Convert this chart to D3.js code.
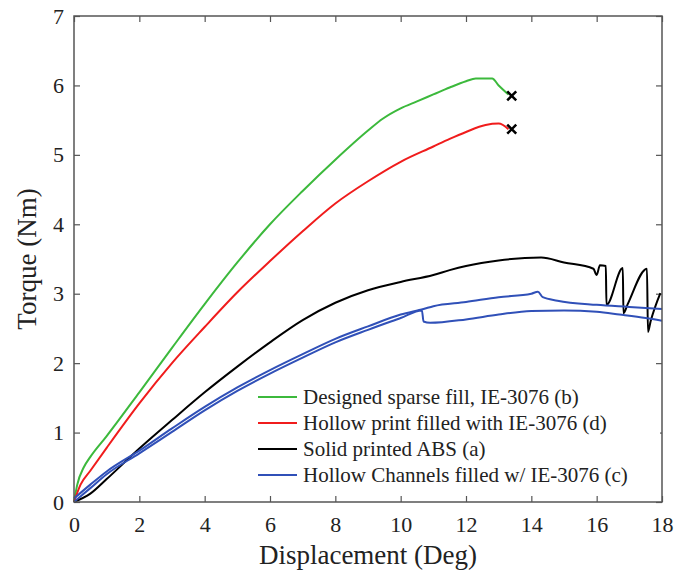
<!DOCTYPE html>
<html>
<head>
<meta charset="utf-8">
<script src="https://cdn.jsdelivr.net/npm/d3@7"></script>
<style>
  body { margin: 0; background: #fff; }
  text { font-family: "Liberation Serif", "Times New Roman", serif; fill: #222; }
</style>
</head>
<body>
<div id="chart"></div>
<script>
// series data (displacement deg, torque Nm)
var sparse = [[0,0],[0.1,0.25],[0.3,0.5],[0.5,0.65],[1,0.95],[2,1.58],[3,2.22],[4,2.85],[5,3.45],[6,4.0],[7,4.48],[8,4.93],[9,5.35],[9.45,5.52],[10,5.67],[10.5,5.77],[11,5.87],[11.5,5.97],[12,6.06],[12.3,6.1],[12.8,6.1],[13.0,6.0],[13.3,5.87]]
var hollowPrint = [[0,0],[0.2,0.25],[0.5,0.45],[1,0.78],[2,1.42],[3,2.0],[4,2.52],[5,3.02],[6,3.47],[7,3.9],[8,4.3],[9,4.62],[10,4.9],[11,5.12],[11.5,5.23],[12,5.33],[12.6,5.43],[13.0,5.45],[13.3,5.37]]
var solidABS = [[0,0],[0.5,0.12],[1,0.33],[2,0.77],[3,1.18],[4,1.58],[5,1.95],[6,2.3],[7,2.62],[8,2.87],[9,3.05],[10,3.17],[11,3.27],[11.5,3.34],[12,3.4],[13,3.48],[14.3,3.52],[15,3.45],[15.9,3.36],[16.0,3.27],[16.1,3.41],[16.28,3.40],[16.3,2.84],[16.8,3.37],[16.82,2.72],[16.95,2.85],[17.54,3.36],[17.57,2.45],[17.65,2.6],[17.95,3.01]]
var channelsA = [[0,0.05],[0.5,0.25],[1,0.44],[2,0.74],[3,1.06],[4,1.37],[5,1.65],[6,1.9],[7,2.13],[8,2.35],[9,2.53],[10,2.7],[10.7,2.78],[11,2.82],[12,2.88],[13,2.95],[14,3.0],[14.2,3.03],[14.35,2.95],[14.8,2.9],[16,2.84],[17,2.81],[18,2.78]]
var channelsB = [[0,0],[0.5,0.2],[1,0.4],[2,0.7],[3,1.01],[4,1.32],[5,1.6],[6,1.85],[7,2.08],[8,2.3],[9,2.48],[10,2.65],[10.65,2.76],[10.7,2.6],[10.9,2.58],[12,2.63],[13,2.7],[14,2.75],[15,2.76],[16,2.74],[16.7,2.7],[17.5,2.65],[18,2.61]]
var failures = [[13.4,5.85],[13.4,5.37]]

var legendLabels = ["Designed sparse fill, IE-3076 (b)", "Hollow print filled with IE-3076 (d)", "Solid printed ABS (a)", "Hollow Channels filled w/ IE-3076 (c)"]
var legendColors = ["#3cb93c", "#f01c1c", "#000000", "#3050b8"]
var xTicks = [0,2,4,6,8,10,12,14,16,18]
var yTicks = [0,1,2,3,4,5,6,7]

var width = 675, height = 580
var pl = 74, pr = 662, pt = 16, pb = 502

var svg = d3.select("#chart").append("svg").attr("width", width).attr("height", height)

var x = d3.scaleLinear().domain([0, 18]).range([pl, pr])
var y = d3.scaleLinear().domain([0, 7]).range([pb, pt])

var line = d3.line().curve(d3.curveMonotoneX)
  .x(function(d) { return x(d[0]) }).y(function(d) { return y(d[1]) })

// axes, ticks inward
var xAxis = svg.append("g").attr("transform", "translate(0," + pb + ")")
  .call(d3.axisBottom(x).tickValues(xTicks).tickSizeInner(-6).tickSizeOuter(0).tickPadding(14).tickFormat(d3.format("d")))
var yAxis = svg.append("g").attr("transform", "translate(" + pl + ",0)")
  .call(d3.axisLeft(y).tickValues(yTicks).tickSizeInner(-6).tickSizeOuter(0).tickPadding(10).tickFormat(d3.format("d")))
svg.append("g").attr("transform", "translate(" + pr + ",0)")
  .call(d3.axisRight(y).tickValues(yTicks).tickSizeInner(-6).tickSizeOuter(0).tickFormat(""))
svg.append("g").attr("transform", "translate(0," + pt + ")")
  .call(d3.axisTop(x).tickValues(xTicks).tickSizeInner(-6).tickSizeOuter(0).tickFormat(""))

svg.selectAll(".domain").attr("stroke", "none")
svg.selectAll(".tick line").attr("stroke", "#555").attr("stroke-width", 1.2)
xAxis.selectAll("text").attr("font-size", 22).attr("font-family", "Liberation Serif").attr("fill", "#222")
yAxis.selectAll("text").attr("font-size", 22).attr("font-family", "Liberation Serif").attr("fill", "#222")

// curves
var series = [
  { data: sparse, color: legendColors[0] },
  { data: hollowPrint, color: legendColors[1] },
  { data: solidABS, color: legendColors[2] },
  { data: channelsA, color: legendColors[3] },
  { data: channelsB, color: legendColors[3] }
]
series.forEach(function(s) {
  svg.append("path").datum(s.data).attr("d", line)
    .attr("fill", "none").attr("stroke", s.color).attr("stroke-width", 2)
})

// failure marks
svg.selectAll(".fail").data(failures).enter().append("path")
  .attr("d", function(d) {
    var cx = x(d[0]), cy = y(d[1]), r = 4.5
    return "M" + (cx - r) + "," + (cy - r) + "L" + (cx + r) + "," + (cy + r) +
      "M" + (cx - r) + "," + (cy + r) + "L" + (cx + r) + "," + (cy - r)
  })
  .attr("stroke", "#000").attr("stroke-width", 2.5)

// legend
var lg = svg.append("g")
legendLabels.forEach(function(t, i) {
  var yy = 397 + i * 26
  lg.append("rect").attr("x", 256).attr("y", yy - 13).attr("width", 404).attr("height", 26).attr("fill", "#fff")
  lg.append("line").attr("x1", 258).attr("x2", 297).attr("y1", yy).attr("y2", yy)
    .attr("stroke", legendColors[i]).attr("stroke-width", 2)
  lg.append("text").attr("x", 303).attr("y", yy + 7).attr("font-size", 21).text(t)
})

// frame
svg.append("rect").attr("x", pl).attr("y", pt).attr("width", pr - pl).attr("height", pb - pt)
  .attr("fill", "none").attr("stroke", "#555").attr("stroke-width", 1.5)

// axis titles
svg.append("text").attr("x", (pl + pr) / 2).attr("y", 564).attr("text-anchor", "middle")
  .attr("font-size", 27).text("Displacement (Deg)")
svg.append("text").attr("transform", "translate(36," + ((pt + pb) / 2) + ") rotate(-90)")
  .attr("text-anchor", "middle").attr("font-size", 27).text("Torque (Nm)")
</script>
</body>
</html>
